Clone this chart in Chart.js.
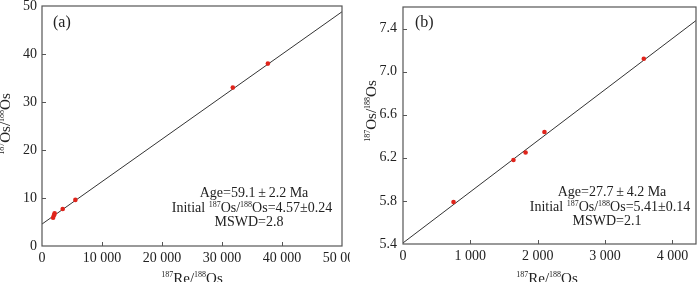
<!DOCTYPE html>
<html>
<head>
<meta charset="utf-8">
<script src="https://cdn.jsdelivr.net/npm/chart.js@4.4.0/dist/chart.umd.min.js"></script>
<style>
  body { margin: 0; background: #fff; }
  .wrap { display: flex; width: 700px; height: 282px; overflow: hidden; }
  .box { position: relative; width: 350px; height: 282px; flex: none; }
  canvas { display: block; }
</style>
</head>
<body>
<div class="wrap">
  <div class="box"><canvas id="chartA" width="350" height="282" style="width:350px;height:282px"></canvas></div>
  <div class="box"><canvas id="chartB" width="350" height="282" style="width:350px;height:282px"></canvas></div>
</div>
<script>
// (a) measured points and isochron
const ptsAX = [1850, 2000, 2100, 3450, 5560, 31800, 37650];
const ptsAY = [5.9, 6.4, 6.8, 7.7, 9.6, 33.0, 38.0];
const fitAX = [0, 50000];
const fitAY = [4.57, 48.8];
const ticksAX = [0, 10000, 20000, 30000, 40000, 50000];
const ticksAY = [0, 10, 20, 30, 40, 50];

// (b) measured points and isochron
const ptsBX = [750, 1640, 1820, 2100, 3575];
const ptsBY = [5.79, 6.18, 6.25, 6.44, 7.12];
const fitBX = [0, 4350];
const fitBY = [5.41, 7.474];
const ticksBX = [0, 1000, 2000, 3000, 4000];
const ticksBY = [5.4, 5.8, 6.2, 6.6, 7.0, 7.4];

const FONT = '"Liberation Serif", "Times New Roman", serif';
const TEXT = '#222';

function fmtThousands(v) {
    return String(v).replace(/\B(?=(\d{3})+(?!\d))/g, ' ');
}

function toXY(xs, ys) {
    return xs.map((x, i) => ({ x: x, y: ys[i] }));
}

// draws text with superscript runs, centred on cx
function drawRich(ctx, parts, cx, y, size, supSize) {
    let w = 0;
    parts.forEach(p => {
        ctx.font = (p[1] ? supSize : size) + 'px ' + FONT;
        w += ctx.measureText(p[0]).width;
    });
    let x = cx - w / 2;
    ctx.textAlign = 'left';
    ctx.textBaseline = 'alphabetic';
    parts.forEach(p => {
        ctx.font = (p[1] ? supSize : size) + 'px ' + FONT;
        ctx.fillText(p[0], x, p[1] ? y - size * 0.38 : y);
        x += ctx.measureText(p[0]).width;
    });
}

// per-panel decorations, kept out of chart options so functions are not resolved
const panels = {};

// frame, inward ticks, tick labels, titles and notes
const framePlugin = {
    id: 'frame',
    afterDraw(chart) {
        const ctx = chart.ctx;
        const a = chart.chartArea;
        const o = panels[chart.canvas.id];
        const sx = chart.scales.x, sy = chart.scales.y;
        ctx.save();
        ctx.strokeStyle = '#555';
        ctx.lineWidth = 1.2;
        ctx.strokeRect(a.left, a.top, a.right - a.left, a.bottom - a.top);

        ctx.beginPath();
        o.ticksX.forEach(v => {
            const px = Math.round(sx.getPixelForValue(v)) + 0.5;
            if (px > a.left + 2 && px < a.right - 2) {
                ctx.moveTo(px, a.bottom);
                ctx.lineTo(px, a.bottom - 4);
            }
        });
        o.ticksY.forEach(v => {
            const py = Math.round(sy.getPixelForValue(v)) + 0.5;
            if (py > a.top + 2 && py < a.bottom - 2) {
                ctx.moveTo(a.left, py);
                ctx.lineTo(a.left + 4, py);
            }
        });
        ctx.lineWidth = 1;
        ctx.stroke();

        ctx.fillStyle = TEXT;
        ctx.font = '14px ' + FONT;
        ctx.textBaseline = 'middle';
        ctx.textAlign = 'center';
        o.ticksX.forEach(v => {
            ctx.fillText(o.fmtX(v), sx.getPixelForValue(v), a.bottom + 12);
        });
        ctx.textAlign = 'right';
        o.ticksY.forEach(v => {
            ctx.fillText(o.fmtY(v), a.left - o.yGap, sy.getPixelForValue(v));
        });

        // panel label
        ctx.font = '16px ' + FONT;
        ctx.textAlign = 'left';
        ctx.textBaseline = 'alphabetic';
        ctx.fillText(o.panel, o.panelX, 27);

        // axis titles
        drawRich(ctx, [['187', true], ['Re/', false], ['188', true], ['Os', false]],
            o.xTitleX, 283, 15, 8);
        ctx.save();
        ctx.translate(o.yTitleX, o.yTitleY);
        ctx.rotate(-Math.PI / 2);
        drawRich(ctx, [['187', true], ['Os/', false], ['188', true], ['Os', false]],
            0, 0, 15, 8);
        ctx.restore();

        // isochron results
        drawRich(ctx, [[o.age, false]], o.noteX, o.noteY, 14, 8);
        drawRich(ctx, [['Initial ', false], ['187', true], ['Os/', false], ['188', true], ['Os=' + o.initial, false]],
            o.noteX - 2, o.noteY + 15, 14, 8);
        drawRich(ctx, [[o.mswd, false]], o.noteX - 5, o.noteY + 29, 14, 8);
        ctx.restore();
    }
};

function makeChart(id, pts, fit, xr, yr, pad) {
    return new Chart(document.getElementById(id), {
        type: 'scatter',
        data: {
            datasets: [{
                data: pts,
                pointRadius: 2.3,
                pointBackgroundColor: '#e0241b',
                pointBorderWidth: 0
            }, {
                type: 'line',
                data: fit,
                borderColor: '#333',
                borderWidth: 1,
                pointRadius: 0,
                fill: false
            }]
        },
        options: {
            responsive: false,
            maintainAspectRatio: false,
            animation: false,
            events: [],
            layout: { padding: pad },
            plugins: {
                legend: { display: false },
                tooltip: { enabled: false }
            },
            scales: {
                x: { type: 'linear', display: false, min: xr[0], max: xr[1] },
                y: { type: 'linear', display: false, min: yr[0], max: yr[1] }
            }
        },
        plugins: [framePlugin]
    });
}

panels.chartA = {
    ticksX: ticksAX, ticksY: ticksAY, fmtX: fmtThousands, fmtY: v => String(v), yGap: 5,
    panel: '(a)', panelX: 53, xTitleX: 192, yTitleX: 10, yTitleY: 124,
    noteX: 254, noteY: 197, age: 'Age=59.1\u2009\u00b1\u20092.2 Ma',
    initial: '4.57\u00b10.24', mswd: 'MSWD=2.8'
};
panels.chartB = {
    ticksX: ticksBX, ticksY: ticksBY, fmtX: fmtThousands, fmtY: v => v.toFixed(1), yGap: 6,
    panel: '(b)', panelX: 65, xTitleX: 197, yTitleX: 26, yTitleY: 111,
    noteX: 262, noteY: 196, age: 'Age=27.7\u2009\u00b1\u20094.2 Ma',
    initial: '5.41\u00b10.14', mswd: 'MSWD=2.1'
};

makeChart('chartA', toXY(ptsAX, ptsAY), toXY(fitAX, fitAY),
    [0, 50000], [0, 50], { left: 42, top: 6, right: 8, bottom: 36 });

makeChart('chartB', toXY(ptsBX, ptsBY), toXY(fitBX, fitBY),
    [0, 4350], [5.4, 7.6], { left: 53, top: 7, right: 1, bottom: 38 });
</script>
</body>
</html>
